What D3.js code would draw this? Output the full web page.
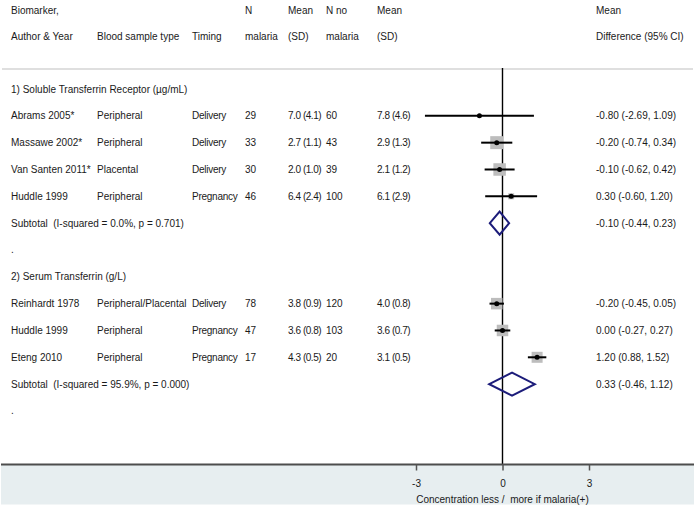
<!DOCTYPE html>
<html>
<head>
<meta charset="utf-8">
<script src="https://cdn.jsdelivr.net/npm/d3@7"></script>
<style>
  html, body { margin: 0; padding: 0; background: #fff; }
  svg { display: block; font-family: "Liberation Sans", Arial, sans-serif; font-size: 10px; }
  text { white-space: pre; }
</style>
</head>
<body>
<svg id="chart" width="697" height="508"></svg>
<script>
// ---------------- data ----------------
const groupLabels = ["1) Soluble Transferrin Receptor (\u00b5g/mL)", "2) Serum Transferrin (g/L)"];
const studyGroup   = [0, 0, 0, 0, 1, 1, 1];
const authors      = ["Abrams 2005*", "Massawe 2002*", "Van Santen 2011*", "Huddle 1999", "Reinhardt 1978", "Huddle 1999", "Eteng 2010"];
const sampleTypes  = ["Peripheral", "Peripheral", "Placental", "Peripheral", "Peripheral/Placental", "Peripheral", "Peripheral"];
const timings      = ["Delivery", "Delivery", "Delivery", "Pregnancy", "Delivery", "Pregnancy", "Pregnancy"];
const nMalaria     = [29, 33, 30, 46, 78, 47, 17];
const meanMalaria  = [7.0, 2.7, 2.0, 6.4, 3.8, 3.6, 4.3];
const sdMalaria    = [4.1, 1.1, 1.0, 2.4, 0.9, 0.8, 0.5];
const nNoMalaria   = [60, 43, 39, 100, 120, 103, 20];
const meanNoMalaria= [7.8, 2.9, 2.1, 6.1, 4.0, 3.6, 3.1];
const sdNoMalaria  = [4.6, 1.3, 1.2, 2.9, 0.8, 0.7, 0.5];
const meanDiff     = [-0.80, -0.20, -0.10, 0.30, -0.20, 0.00, 1.20];
const ciLow        = [-2.69, -0.74, -0.62, -0.60, -0.45, -0.27, 0.88];
const ciHigh       = [1.09, 0.34, 0.42, 1.20, 0.05, 0.27, 1.52];
const weights      = [0.5, 13, 12.5, 6, 11.5, 11.5, 11];   // relative box size
const subtotalLabels = ["Subtotal  (I-squared = 0.0%, p = 0.701)", "Subtotal  (I-squared = 95.9%, p = 0.000)"];
const subtotalMD   = [-0.10, 0.33];
const subtotalLow  = [-0.44, -0.46];
const subtotalHigh = [0.23, 1.12];
const xTicks       = [-3, 0, 3];
const axisTitle    = "Concentration less /  more if malaria(+)";
const headerLine1  = ["Biomarker,", "", "", "N", "Mean", "N no", "Mean", "Mean"];
const headerLine2  = ["Author & Year", "Blood sample type", "Timing", "malaria", "(SD)", "malaria", "(SD)", "Difference (95% CI)"];

// ---------------- layout ----------------
const colX = [11, 97, 192, 245, 288, 326, 377, 596];
const colSpacing = [0, 0, -0.25, 0, -0.45, 0, -0.45, 0];
const svg = d3.select("#chart");
const f1 = d3.format(".1f"), f2 = d3.format(".2f");
const fmt2 = v => f2(v).replace("\u2212", "-");
const effText = (m, l, h) => `${fmt2(m)} (${fmt2(l)}, ${fmt2(h)})`;
const msd = (m, s) => `${f1(m)} (${f1(s)})`;

// Build rows
const rows = [];
groupLabels.forEach((g, gi) => {
  rows.push({type: "group", label: g});
  authors.forEach((a, i) => {
    if (studyGroup[i] !== gi) return;
    rows.push({type: "study", i});
  });
  rows.push({type: "subtotal", gi});
  rows.push({type: "blank"});
});

const y = d3.scaleLinear().domain([0, rows.length - 1]).range([89, 89 + 26.83 * (rows.length - 1)]);
const x = d3.scaleLinear().domain([-3, 3]).range([416, 589]);
const boxSize = d3.scaleLinear().domain([0, 13]).range([0, 13]);

const axisY = 464.5;

// bottom background
svg.append("rect").attr("x", 1).attr("y", axisY).attr("width", 693).attr("height", 40)
  .attr("fill", "#e7eef0");

// header
const hdr = svg.append("g").attr("fill", "#1a1a1a");
headerLine1.forEach((t, k) => {
  if (t) hdr.append("text").attr("x", colX[k]).attr("y", 10).attr("dy", "0.35em").text(t);
});
headerLine2.forEach((t, k) => {
  hdr.append("text").attr("x", colX[k]).attr("y", 36).attr("dy", "0.35em").text(t);
});

// separator line
svg.append("line").attr("x1", 2).attr("x2", 693).attr("y1", 69).attr("y2", 69)
  .attr("stroke", "#d4d4d4").attr("stroke-width", 1.5);

// zero line
svg.append("line").attr("x1", x(0)).attr("x2", x(0)).attr("y1", 68).attr("y2", axisY)
  .attr("stroke", "#000").attr("stroke-width", 1.4);

// rows
const body = svg.append("g").attr("fill", "#1a1a1a");
rows.forEach((r, ri) => {
  const yy = y(ri);
  if (r.type === "group") {
    body.append("text").attr("x", colX[0]).attr("y", yy).attr("dy", "0.35em").text(r.label);
  } else if (r.type === "blank") {
    body.append("text").attr("x", colX[0]).attr("y", yy).attr("dy", "0.35em").text(".");
  } else if (r.type === "study") {
    const i = r.i;
    const cells = [authors[i], sampleTypes[i], timings[i], String(nMalaria[i]), msd(meanMalaria[i], sdMalaria[i]),
                   String(nNoMalaria[i]), msd(meanNoMalaria[i], sdNoMalaria[i]), effText(meanDiff[i], ciLow[i], ciHigh[i])];
    cells.forEach((t, k) => body.append("text").attr("x", colX[k]).attr("y", yy).attr("dy", "0.35em")
      .attr("letter-spacing", colSpacing[k]).text(t));
    const s = boxSize(weights[i]);
    if (s > 1) {
      svg.append("rect").attr("x", x(meanDiff[i]) - s / 2).attr("y", yy - s / 2)
        .attr("width", s).attr("height", s).attr("fill", "#bdbdbd");
    }
    svg.append("line").attr("x1", x(ciLow[i])).attr("x2", x(ciHigh[i])).attr("y1", yy).attr("y2", yy)
      .attr("stroke", "#000").attr("stroke-width", 2);
    svg.append("circle").attr("cx", x(meanDiff[i])).attr("cy", yy).attr("r", 2.5).attr("fill", "#000");
  } else if (r.type === "subtotal") {
    const gi = r.gi;
    body.append("text").attr("x", colX[0]).attr("y", yy).attr("dy", "0.35em").text(subtotalLabels[gi]);
    body.append("text").attr("x", colX[7]).attr("y", yy).attr("dy", "0.35em")
      .text(effText(subtotalMD[gi], subtotalLow[gi], subtotalHigh[gi]));
    const h = 11.5;
    const pts = [[x(subtotalLow[gi]), yy], [x(subtotalMD[gi]), yy - h], [x(subtotalHigh[gi]), yy], [x(subtotalMD[gi]), yy + h]];
    svg.append("path").attr("d", d3.line()(pts) + "Z")
      .attr("fill", "none").attr("stroke", "#1c1c7a").attr("stroke-width", 2);
  }
});

// axis
svg.append("line").attr("x1", 1).attr("x2", 694).attr("y1", axisY).attr("y2", axisY)
  .attr("stroke", "#4d4d4d").attr("stroke-width", 2);
const ax = svg.append("g").attr("transform", `translate(0,${axisY})`)
  .call(d3.axisBottom(x).tickValues(xTicks).tickSize(6).tickPadding(9).tickFormat(d3.format("d")));
ax.select(".domain").remove();
ax.selectAll(".tick line").attr("stroke", "#555").attr("stroke-width", 1.5);
ax.selectAll(".tick text").attr("font-size", 10).attr("font-family", "Liberation Sans, Arial, sans-serif")
  .attr("fill", "#1a1a1a").text(d => String(d));
svg.append("text").attr("x", x(0)).attr("y", 499).attr("dy", "0.35em").attr("text-anchor", "middle")
  .attr("fill", "#1a1a1a").text(axisTitle);
</script>
</body>
</html>
